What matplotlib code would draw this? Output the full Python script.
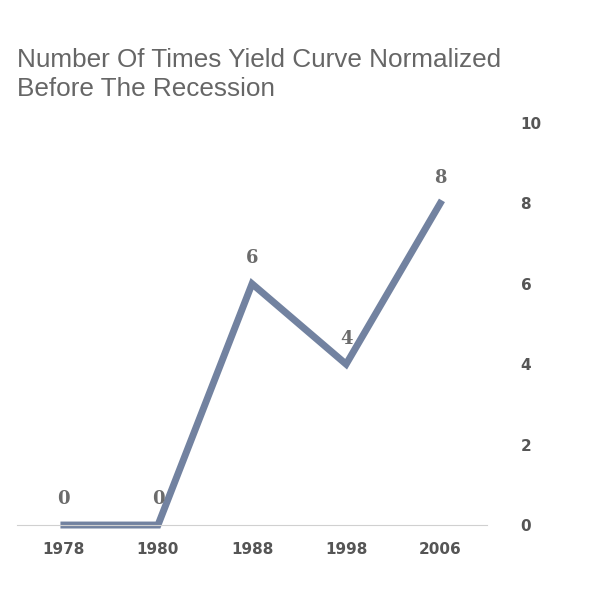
import matplotlib.pyplot as plt

years = ["1978", "1980", "1988", "1998", "2006"]
counts = [0, 0, 6, 4, 8]
yticks = [0, 2, 4, 6, 8, 10]

fig = plt.figure(figsize=(6.03, 5.99), dpi=100)
ax = fig.add_axes([0.028, 0.1235, 0.78, 0.6712])

x = range(len(years))
ax.plot(x, counts, color="#7282a0", lw=5, solid_joinstyle="miter", clip_on=False)
for xi, v in zip(x, counts):
    ax.annotate(str(v), (xi, v), xytext=(0, 12), textcoords="offset points",
                ha="center", va="bottom", fontsize=13, fontweight="bold",
                family="DejaVu Serif", color="#6b6b6b")

ax.set_xlim(-0.5, 4.5)
ax.set_ylim(0, 10)
ax.set_xticks(list(x))
ax.set_xticklabels(years)
ax.set_yticks(yticks)
ax.yaxis.tick_right()
ax.tick_params(axis="x", length=0, labelsize=11, colors="#555555", pad=12)
ax.tick_params(axis="y", length=0, labelsize=11, colors="#555555", pad=24)
for lab in ax.get_xticklabels() + ax.get_yticklabels():
    lab.set_fontweight("bold")
for s in ["top", "left", "right"]:
    ax.spines[s].set_visible(False)
ax.spines["bottom"].set_color("#d0d0d0")

fig.text(0.028, 0.832, "Number Of Times Yield Curve Normalized\nBefore The Recession",
         fontsize=18.8, color="#666666", va="bottom", linespacing=1.25,
         family="Liberation Sans")

fig.savefig("out.png", dpi=100)
